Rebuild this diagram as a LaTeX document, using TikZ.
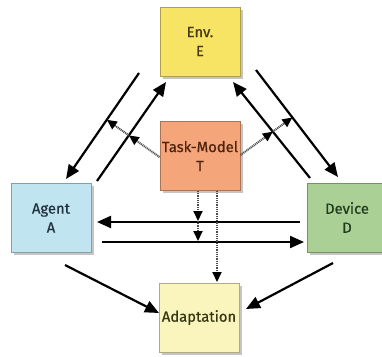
\documentclass[tikz,border=0pt]{standalone}
\usepackage{fontspec}
\setmainfont{Fira Sans}
\newfontfamily\boxfont{Fira Sans}[FakeBold=0.7]
\usetikzlibrary{arrows.meta,shadows}
\definecolor{envc}{RGB}{248,228,100}
\definecolor{taskc}{RGB}{244,166,122}
\definecolor{agentc}{RGB}{192,228,240}
\definecolor{devc}{RGB}{170,208,150}
\definecolor{adac}{RGB}{250,245,188}
\definecolor{envt}{RGB}{70,58,20}
\definecolor{taskt}{RGB}{80,35,15}
\definecolor{agentt}{RGB}{35,50,65}
\definecolor{devt}{RGB}{30,60,30}
\definecolor{adat}{RGB}{55,55,20}
\begin{document}
\begin{tikzpicture}[x=1pt,y=-1pt,
  box/.style={draw=#1!70!black, line width=0.6pt, fill=#1, minimum width=80pt, minimum height=69pt,
    align=center, inner sep=0pt, font=\boxfont\fontsize{14.8}{19}\selectfont,
    drop shadow={shadow xshift=2.5pt, shadow yshift=-2.5pt, opacity=0.45}},
  flow/.style={line width=2.2pt, -{Triangle[length=14pt,width=12pt]}},
  dotflow/.style={line width=2pt, draw=black!70, dash pattern=on 1pt off 0.8pt, -{Triangle[length=10pt,width=9pt,color=black]}}
]
\useasboundingbox (0,0) rectangle (382,356);
\clip (0,0) rectangle (382,356);
\fill[white] (0,0) rectangle (382,356);

\node[box=envc, text=envt] (E) at (200,41.5) {Env.\\E};
\node[box=taskc, text=taskt] (T) at (200,156) {Task-Model\\T};
\node[box=agentc, text=agentt] (A) at (51,218) {Agent\\A};
\node[box=devc, text=devt] (D) at (347,217.5) {Device\\D};
\node[box=adac, text=adat] (Ad) at (199,317.5) {Adaptation};

% left pair
\coordinate (l1s) at (139,73);  \coordinate (l1e) at (66,179);
\coordinate (l2s) at (97,181);  \coordinate (l2e) at (166,82);
% right pair
\coordinate (r1s) at (310,178); \coordinate (r1e) at (233,82);
\coordinate (r2s) at (256,70);  \coordinate (r2e) at (338,177);
% horizontal
\coordinate (h1s) at (300,222); \coordinate (h1e) at (97,222);
\coordinate (h2s) at (102,242); \coordinate (h2e) at (304,242);
% bottom
\coordinate (b1s) at (65,265);  \coordinate (b1e) at (159,313);
\coordinate (b2s) at (333,263); \coordinate (b2e) at (246,309);

\draw[flow] (l1s) -- (l1e);
\draw[flow] (l2s) -- (l2e);
\draw[flow] (r1s) -- (r1e);
\draw[flow] (r2s) -- (r2e);
\draw[flow] (h1s) -- (h1e);
\draw[flow] (h2s) -- (h2e);
\draw[flow] (b1s) -- (b1e);
\draw[flow] (b2s) -- (b2e);

% dotted from task model
\coordinate (tl) at (159.5,157);
\coordinate (tr) at (240.5,155);
\coordinate (tlf) at (110,122);
\coordinate (trf) at (293,117);
\coordinate (tli) at (intersection of tl--tlf and l2s--l2e);
\coordinate (tlo) at (intersection of tl--tlf and l1s--l1e);
\coordinate (tri) at (intersection of tr--trf and r1s--r1e);
\coordinate (tro) at (intersection of tr--trf and r2s--r2e);
\draw[dotflow] (tl) -- (tli);
\draw[dotflow] (tli) -- (tlo);
\draw[dotflow] (tr) -- (tri);
\draw[dotflow] (tri) -- (tro);

\coordinate (d1a) at (198,191);
\coordinate (d1b) at (198,221);
\coordinate (d1c) at (198,241);
\draw[dotflow] (d1a) -- (d1b);
\draw[dotflow] (d1b) -- (d1c);
\coordinate (d2a) at (217,191);
\coordinate (d2b) at (217,282);
\draw[dotflow] (d2a) -- (d2b);
\end{tikzpicture}
\end{document}
